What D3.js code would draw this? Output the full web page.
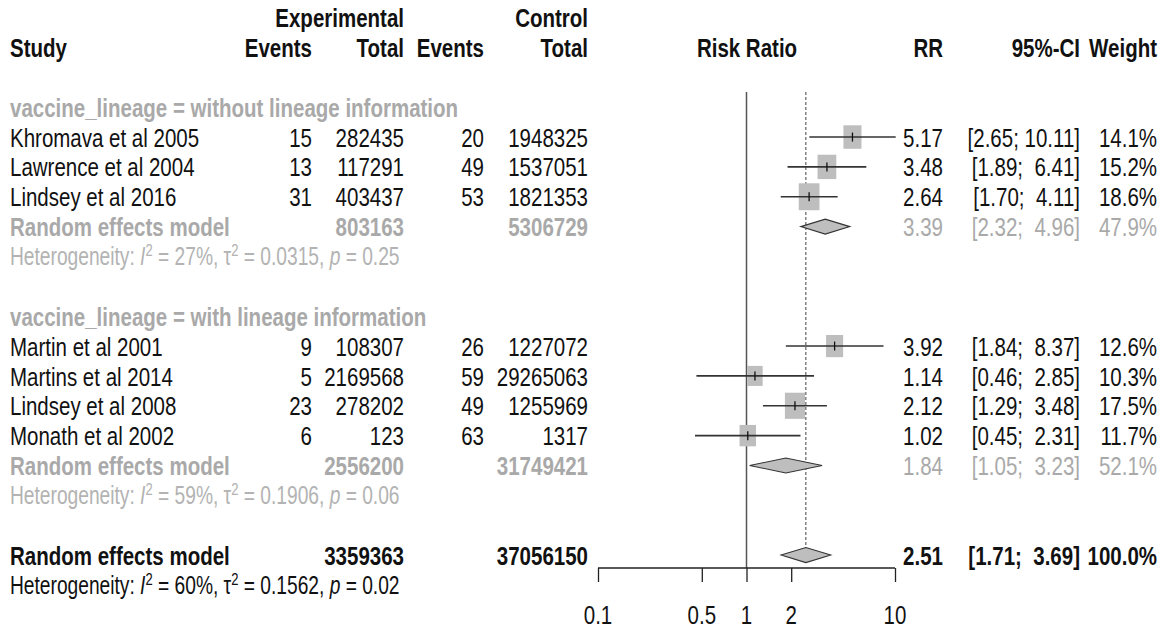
<!DOCTYPE html>
<html>
<head>
<meta charset="utf-8">
<script src="https://cdn.jsdelivr.net/npm/d3@7"></script>
<style>
  html, body { margin: 0; padding: 0; background: #fff; }
  svg text { font-family: "Liberation Sans", Arial, sans-serif; white-space: pre; }
</style>
</head>
<body>
<svg id="chart" width="1169" height="630"></svg>
<script>
// Study-level data
const studies     = ["Khromava et al 2005", "Lawrence et al 2004", "Lindsey et al 2016",
                     "Martin et al 2001", "Martins et al 2014", "Lindsey et al 2008", "Monath et al 2002"];
const studyGroup  = [0, 0, 0, 1, 1, 1, 1];
const expEvents   = [15, 13, 31, 9, 5, 23, 6];
const expTotal    = [282435, 117291, 403437, 108307, 2169568, 278202, 123];
const ctrlEvents  = [20, 49, 53, 26, 59, 49, 63];
const ctrlTotal   = [1948325, 1537051, 1821353, 1227072, 29265063, 1255969, 1317];
const rr          = [5.17, 3.48, 2.64, 3.92, 1.14, 2.12, 1.02];
const rrLower     = [2.65, 1.89, 1.70, 1.84, 0.46, 1.29, 0.45];
const rrUpper     = [10.11, 6.41, 4.11, 8.37, 2.85, 3.48, 2.31];
const weight      = [14.1, 15.2, 18.6, 12.6, 10.3, 17.5, 11.7];

// Subgroup pooled results
const subgroups    = ["without lineage information", "with lineage information"];
const subExpTotal  = [803163, 2556200];
const subCtrlTotal = [5306729, 31749421];
const subRR        = [3.39, 1.84];
const subLower     = [2.32, 1.05];
const subUpper     = [4.96, 3.23];
const subWeight    = [47.9, 52.1];
const subI2        = ["27%", "59%"];
const subTau2      = ["0.0315", "0.1906"];
const subP         = ["0.25", "0.06"];

// Overall pooled result
const overallExpTotal  = 3359363;
const overallCtrlTotal = 37056150;
const overallRR        = 2.51;
const overallLower     = 1.71;
const overallUpper     = 3.69;
const overallWeight    = 100.0;
const overallI2        = "60%";
const overallTau2      = "0.1562";
const overallP         = "0.02";

const axisTicks = [0.1, 0.5, 1, 2, 10];

// ---- layout ----
const FS = 20.5;          // font size
const HFS = 19.2;         // heterogeneity line font size
const SY = 1.3;           // vertical stretch of glyphs
const BLACK = "#111";
const GREY = "#a9a9a9";
const SQ = "#bebebe";

const svg = d3.select("#chart");

// row index -> vertical centre
const y = d3.scaleLinear().domain([0, 1]).range([17.6, 17.6 + 29.86]);
const x = d3.scaleLog().domain([0.1, 10]).range([598, 895]);
const sqSize = d3.scaleSqrt().domain([0, 20]).range([0, 21.5]);

const col = { study: 10, expEv: 312, expTot: 404, ctrlEv: 484, ctrlTot: 588,
              rr: 943, ci: 1080, w: 1157, plot: 747 };

// text centred vertically on yc (pixels)
function textAt(xp, yc, s, opts = {}) {
  return svg.append("text")
    .attr("transform", `translate(${xp},${yc}) scale(1,${SY})`)
    .attr("dy", "0.36em")
    .attr("font-size", opts.size || FS)
    .attr("font-weight", opts.bold ? "bold" : "normal")
    .attr("fill", opts.color || BLACK)
    .attr("text-anchor", opts.anchor || "start")
    .text(s);
}
// text placed on a table row
const txt = (xp, row, s, opts) => textAt(xp, y(row), s, opts);

const pad = (s, n) => " ".repeat(Math.max(0, n - s.length)) + s;
const fmtCI = (lo, hi) => "[" + lo.toFixed(2) + "; " + pad(hi.toFixed(2), 5) + "]";
const fmtW = w => w.toFixed(1) + "%";

// ---- header ----
txt(col.expTot, 0, "Experimental", { bold: true, anchor: "end" });
txt(col.ctrlTot, 0, "Control", { bold: true, anchor: "end" });
txt(col.study, 1, "Study", { bold: true });
txt(col.expEv, 1, "Events", { bold: true, anchor: "end" });
txt(col.expTot, 1, "Total", { bold: true, anchor: "end" });
txt(col.ctrlEv, 1, "Events", { bold: true, anchor: "end" });
txt(col.ctrlTot, 1, "Total", { bold: true, anchor: "end" });
txt(col.plot, 1, "Risk Ratio", { bold: true, anchor: "middle" });
txt(col.rr, 1, "RR", { bold: true, anchor: "end" });
txt(col.ci, 1, "95%-CI", { bold: true, anchor: "end" });
txt(col.w, 1, "Weight", { bold: true, anchor: "end" });

// ---- row assignment ----
const studyRow = [];
const subLabelRow = [], subPoolRow = [], subHetRow = [];
let r = 3;
subgroups.forEach((g, gi) => {
  subLabelRow[gi] = r++;
  studies.forEach((s, i) => { if (studyGroup[i] === gi) studyRow[i] = r++; });
  subPoolRow[gi] = r++;
  subHetRow[gi] = r++;
  r++; // blank line
});
const overallRow = r;
const overallHetRow = r + 1;

// ---- reference lines ----
const topY = 92, axisY = 568;
svg.append("line").attr("x1", x(1)).attr("x2", x(1)).attr("y1", topY).attr("y2", axisY)
  .attr("stroke", "#555").attr("stroke-width", 1.5);
const dH = 7.5;
svg.append("line").attr("x1", x(overallRR)).attr("x2", x(overallRR))
  .attr("y1", topY).attr("y2", y(overallRow) - dH)
  .attr("stroke", "#555").attr("stroke-width", 1.1).attr("stroke-dasharray", "3,2");

function heterogeneity(row, i2, tau2, p, color) {
  const t = txt(col.study, row, "", { color, size: HFS });
  const up = -7;
  t.append("tspan").text("Heterogeneity: ");
  t.append("tspan").attr("font-style", "italic").text("I");
  t.append("tspan").attr("font-size", 13).attr("dy", up).text("2");
  t.append("tspan").attr("dy", -up).text(" = " + i2 + ", \u03c4");
  t.append("tspan").attr("font-size", 13).attr("dy", up).text("2");
  t.append("tspan").attr("dy", -up).text(" = " + tau2 + ", ");
  t.append("tspan").attr("font-style", "italic").text("p");
  t.append("tspan").text(" = " + p);
}

function diamond(est, lo, hi, row) {
  const cy = y(row);
  svg.append("path")
    .attr("d", `M${x(lo)},${cy} L${x(est)},${cy - dH} L${x(hi)},${cy} L${x(est)},${cy + dH} Z`)
    .attr("fill", SQ).attr("stroke", "#333").attr("stroke-width", 1.1);
}

// ---- subgroups ----
subgroups.forEach((g, gi) => {
  txt(col.study, subLabelRow[gi], "vaccine_lineage = " + g, { bold: true, color: GREY });
  studies.forEach((s, i) => {
    if (studyGroup[i] !== gi) return;
    const row = studyRow[i], cy = y(row);
    txt(col.study, row, s);
    txt(col.expEv, row, String(expEvents[i]), { anchor: "end" });
    txt(col.expTot, row, String(expTotal[i]), { anchor: "end" });
    txt(col.ctrlEv, row, String(ctrlEvents[i]), { anchor: "end" });
    txt(col.ctrlTot, row, String(ctrlTotal[i]), { anchor: "end" });
    txt(col.rr, row, rr[i].toFixed(2), { anchor: "end" });
    txt(col.ci, row, fmtCI(rrLower[i], rrUpper[i]), { anchor: "end" });
    txt(col.w, row, fmtW(weight[i]), { anchor: "end" });

    const w = sqSize(weight[i]), h = w * SY;
    svg.append("rect").attr("x", x(rr[i]) - w / 2).attr("y", cy - h / 2)
      .attr("width", w).attr("height", h).attr("fill", SQ);
    svg.append("line").attr("x1", x(rrLower[i])).attr("x2", x(rrUpper[i]))
      .attr("y1", cy).attr("y2", cy).attr("stroke", "#333").attr("stroke-width", 1.6);
    svg.append("line").attr("x1", x(rr[i])).attr("x2", x(rr[i]))
      .attr("y1", cy - 4.5).attr("y2", cy + 4.5).attr("stroke", "#111").attr("stroke-width", 1.3);
  });
  const pr = subPoolRow[gi];
  txt(col.study, pr, "Random effects model", { bold: true, color: GREY });
  txt(col.expTot, pr, String(subExpTotal[gi]), { bold: true, color: GREY, anchor: "end" });
  txt(col.ctrlTot, pr, String(subCtrlTotal[gi]), { bold: true, color: GREY, anchor: "end" });
  txt(col.rr, pr, subRR[gi].toFixed(2), { color: GREY, anchor: "end" });
  txt(col.ci, pr, fmtCI(subLower[gi], subUpper[gi]), { color: GREY, anchor: "end" });
  txt(col.w, pr, fmtW(subWeight[gi]), { color: GREY, anchor: "end" });
  diamond(subRR[gi], subLower[gi], subUpper[gi], pr);
  heterogeneity(subHetRow[gi], subI2[gi], subTau2[gi], subP[gi], "#b3b3b3");
});

// ---- overall ----
txt(col.study, overallRow, "Random effects model", { bold: true });
txt(col.expTot, overallRow, String(overallExpTotal), { bold: true, anchor: "end" });
txt(col.ctrlTot, overallRow, String(overallCtrlTotal), { bold: true, anchor: "end" });
txt(col.rr, overallRow, overallRR.toFixed(2), { bold: true, anchor: "end" });
txt(col.ci, overallRow, fmtCI(overallLower, overallUpper), { bold: true, anchor: "end" });
txt(col.w, overallRow, fmtW(overallWeight), { bold: true, anchor: "end" });
diamond(overallRR, overallLower, overallUpper, overallRow);
heterogeneity(overallHetRow, overallI2, overallTau2, overallP, BLACK);

// ---- axis ----
const axis = d3.axisBottom(x).tickValues(axisTicks).tickFormat(d3.format("~g"))
  .tickSize(14).tickPadding(0);
const ag = svg.append("g").attr("transform", `translate(0,${axisY})`).call(axis);
ag.select(".domain").attr("d", `M${x(0.1)},0H${x(10)}`).attr("stroke", "#222").attr("stroke-width", 1.3);
ag.selectAll(".tick line").attr("stroke", "#222").attr("stroke-width", 1.3);
ag.selectAll(".tick text").remove();
axisTicks.forEach(t => textAt(x(t), 614, d3.format("~g")(t), { anchor: "middle" }));
</script>
</body>
</html>
